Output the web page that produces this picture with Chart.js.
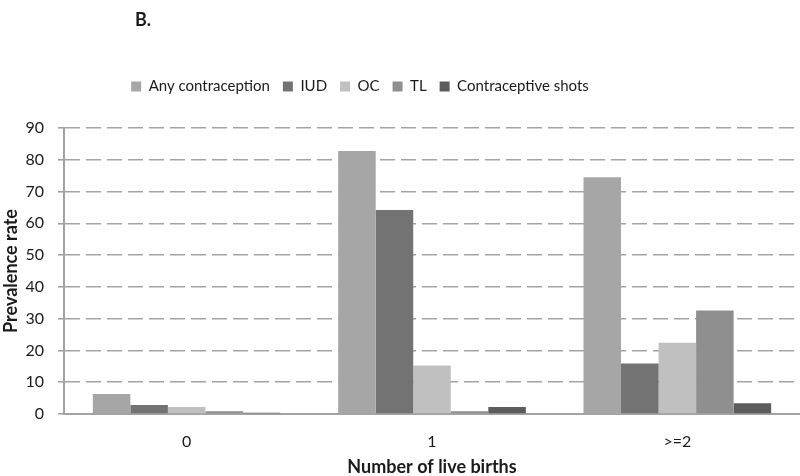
<!DOCTYPE html>
<html lang="en">
<head>
  <meta charset="UTF-8">
  <title>Prevalence rate by number of live births</title>
  <script src="https://cdn.jsdelivr.net/npm/chart.js"></script>
  <style>
    html, body { margin: 0; padding: 0; background: #fff; }
    .wrap { position: relative; width: 800px; height: 476px; }
    .panel { position: absolute; left: 135px; top: 8px; font: bold 18px Lato, sans-serif; color: #1a1a1a; }
  </style>
</head>
<body>
  <div class="wrap">
    <div class="panel">B.</div>
    <canvas id="chart" width="800" height="476"></canvas>
  </div>

  <script>
    // カテゴリと系列データ
    const births = ['0', '1', '>=2'];
    const anyContraception = [6.3, 82.8, 74.5];
    const iud = [2.8, 64.2, 15.9];
    const oc = [2.2, 15.3, 22.4];
    const tl = [0.9, 0.9, 32.6];
    const shots = [0.4, 2.2, 3.4];
    const yTicks = [0, 10, 20, 30, 40, 50, 60, 70, 80, 90];

    const seriesNames = ['Any contraception', 'IUD', 'OC', 'TL', 'Contraceptive shots'];
    const seriesData = [anyContraception, iud, oc, tl, shots];
    const colors = ['#a6a6a6', '#737373', '#c0c0c0', '#8f8f8f', '#5c5c5c'];

    const fontFamily = 'Lato, sans-serif';
    const textColor = '#1a1a1a';
    const lineColor = '#a3a3a3';

    // 凡例の位置調整（高さを増やして左へずらす）
    const legendTweak = {
      id: 'legendTweak',
      beforeInit(chart) {
        const fit = chart.legend.fit;
        chart.legend.fit = function () {
          fit.bind(chart.legend)();
          this.height += 24;
        };
      },
      afterLayout(chart) {
        chart.legend.left -= 40;
        chart.legend.right -= 40;
      }
    };

    const datasets = seriesNames.map((name, i) => ({
      label: name,
      data: seriesData[i],
      backgroundColor: colors[i],
      borderWidth: 0,
      categoryPercentage: 0.765,
      barPercentage: 1.0
    }));

    const ctx = document.getElementById('chart').getContext('2d');
    new Chart(ctx, {
      type: 'bar',
      data: { labels: births, datasets: datasets },
      plugins: [legendTweak],
      options: {
        responsive: false,
        animation: false,
        layout: { padding: { top: 66, left: 0, right: 0, bottom: 0 } },
        plugins: {
          legend: {
            position: 'top',
            labels: {
              boxWidth: 10,
              boxHeight: 10,
              padding: 13,
              color: textColor,
              font: { family: fontFamily, size: 15 }
            }
          },
          tooltip: { enabled: false }
        },
        scales: {
          x: {
            grid: { display: false, tickLength: 8 },
            border: { display: true, color: lineColor, width: 2 },
            ticks: { color: textColor, padding: 10, font: { family: fontFamily, size: 16 } },
            title: {
              display: true,
              text: 'Number of live births',
              color: textColor,
              font: { family: fontFamily, size: 18, weight: 'bold' },
              padding: { top: 0, bottom: -2 }
            },
            afterFit(scale) { scale.height = 62; }
          },
          y: {
            min: 0,
            max: 90,
            afterBuildTicks(scale) { scale.ticks = yTicks.map(v => ({ value: v })); },
            grid: { color: lineColor, lineWidth: 1.6, tickLength: 6 },
            border: { display: true, color: lineColor, width: 2, dash: [15, 6] },
            ticks: { color: textColor, padding: 14, font: { family: fontFamily, size: 16 } },
            title: {
              display: true,
              text: 'Prevalence rate',
              color: textColor,
              font: { family: fontFamily, size: 18, weight: 'bold' },
              padding: { top: 0, bottom: 0 }
            },
            afterFit(scale) { scale.width = 64; }
          }
        }
      }
    });
  </script>
</body>
</html>
